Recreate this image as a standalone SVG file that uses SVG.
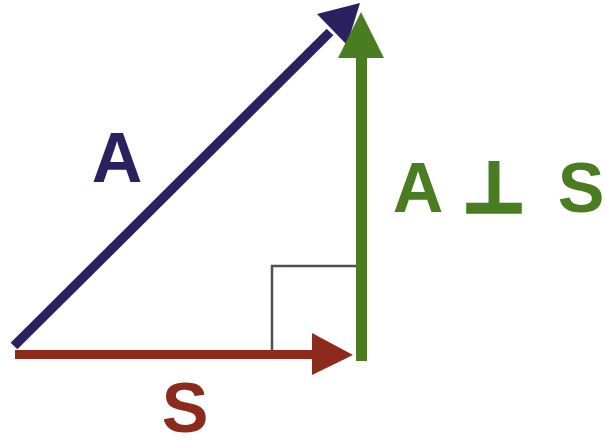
<svg xmlns="http://www.w3.org/2000/svg" width="605" height="441" viewBox="0 0 605 441">
<style>
.lbl{font-family:"Liberation Sans",Arial,"DejaVu Sans",sans-serif;font-weight:bold;font-size:70px;text-anchor:middle}
.perp{stroke:#4a7c21;stroke-width:3.5px}
</style>
<rect width="605" height="441" fill="#ffffff"/>
<g id="right-angle">
<polyline points="272,350 272,266 357,266" fill="none" stroke="#505058" stroke-width="2.5"/>
</g>
<g id="connectors">
<g id="vector-S">
<rect x="15" y="350" width="302" height="9" fill="#8c2a1c"/>
<polygon points="312,333 353,355 312,375" fill="#8c2a1c"/>
</g>
<g id="vector-A">
<line x1="14" y1="346" x2="330" y2="32" stroke="#2b2160" stroke-width="9.5"/>
<polygon points="317,14 360,3 347,45" fill="#2b2160"/>
</g>
<g id="vector-perp">
<rect x="356" y="52" width="11" height="309" fill="#4a7c21"/>
<polygon points="338,58 361,12 384,58" fill="#4a7c21"/>
</g>
</g>
<g id="label-A"><text class="lbl" x="117" y="182" fill="#2b2160">A</text></g>
<g id="label-S"><text class="lbl" x="185" y="432" fill="#8c2a1c">S</text></g>
<g id="label-perp"><text class="lbl" y="212" fill="#4a7c21"><tspan x="418">A</tspan><tspan x="494" class="perp"> ⊥ </tspan><tspan x="581">S</tspan></text></g>
</svg>
